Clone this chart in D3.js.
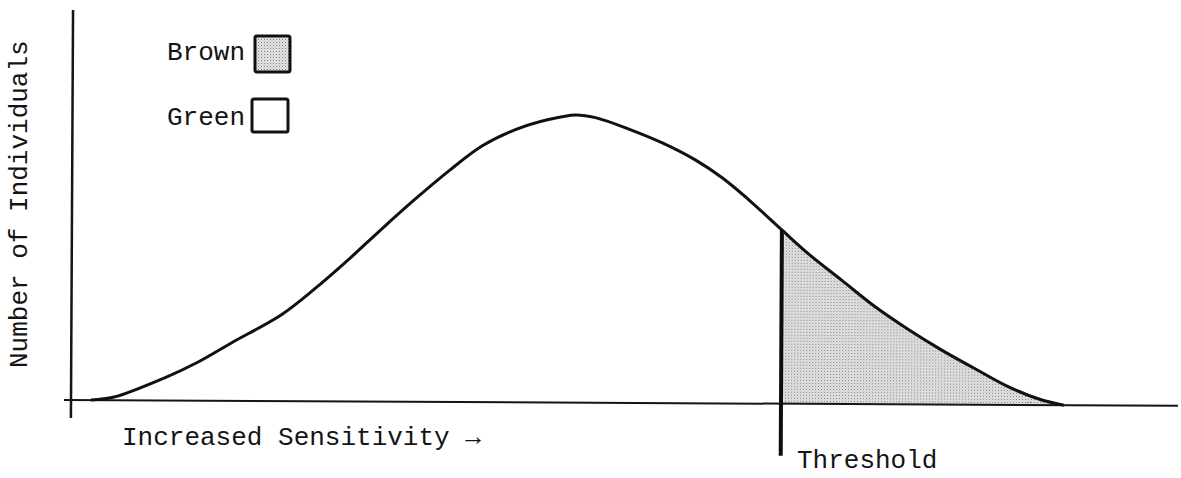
<!DOCTYPE html>
<html>
<head>
<meta charset="utf-8">
<script src="https://cdn.jsdelivr.net/npm/d3@7"></script>
<style>
  body { margin: 0; background: #fff; }
  text { font-family: "Liberation Mono", "DejaVu Sans Mono", monospace; fill: #141414; }
</style>
</head>
<body>
<svg id="chart" width="1181" height="478"></svg>
<script>
// sensitivity (arbitrary units) and number of individuals
let sensitivity = [2, 4.3, 9.3, 12.7, 16, 21, 24.3, 27.7, 31, 34.3, 37.7, 41, 44.3, 47.7, 50.3,
  52.3, 55.7, 59, 62.3, 65, 67.7, 71, 73.7, 77, 80.3, 83.7, 87, 90.3, 93.7, 97, 99.3];
let individuals = [0, 0.33, 2.34, 4.03, 6.03, 9.0, 11.7, 14.8, 18.0, 21.1, 24.1, 26.7, 28.4, 29.5, 29.97,
  29.7, 28.5, 27.1, 25.35, 23.5, 21.2, 18.1, 15.6, 12.9, 10.2, 7.8, 5.7, 3.8, 1.9, 0.55, 0];
let threshold = 71;
let legendLabels = ['Brown', 'Green'];
let axisLabels = {x: 'Increased Sensitivity \u2192', y: 'Number of Individuals', t: 'Threshold'};

let data = sensitivity.map((s, i) => ({s: s, n: individuals[i]}));

let svg = d3.select('#chart');

// stipple for the shaded part
let defs = svg.append('defs');
let pat = defs.append('pattern')
  .attr('id', 'stipple')
  .attr('patternUnits', 'userSpaceOnUse')
  .attr('width', 3).attr('height', 3);
pat.append('rect').attr('width', 3).attr('height', 3).attr('fill', '#e4e4e4');
pat.append('rect').attr('width', 1).attr('height', 1).attr('fill', '#7a7a7a');
pat.append('rect').attr('x', 1.5).attr('y', 1.5).attr('width', 1).attr('height', 1).attr('fill', '#b0b0b0');

// the scan is tilted a little, so the plot group is too
let plot = svg.append('g')
  .attr('transform', 'translate(71,400) rotate(0.3)');

let x = d3.scaleLinear().domain([0, 110]).range([0, 1100]);
let y = d3.scaleLinear().domain([0, 30]).range([0, -288]);

let curve = d3.curveCatmullRom.alpha(0.5);

// value at the threshold, from the neighbouring read points
let j = d3.bisector(d => d.s).left(data, threshold);
let tVal = data[j].n;
let tail = data.filter(d => d.s >= threshold);

plot.append('path')
  .datum(tail)
  .attr('fill', 'url(#stipple)')
  .attr('d', d3.area().x(d => x(d.s)).y0(y(0)).y1(d => y(d.n)).curve(curve));

// axes
plot.append('line')
  .attr('x1', -7).attr('x2', 1107).attr('y1', y(0)).attr('y2', y(0))
  .attr('stroke', '#151515').attr('stroke-width', 2);
plot.append('line')
  .attr('x1', 0).attr('x2', 0).attr('y1', -390).attr('y2', 18)
  .attr('stroke', '#151515').attr('stroke-width', 2.5);

// curve
plot.append('path')
  .datum(data)
  .attr('fill', 'none')
  .attr('stroke', '#111')
  .attr('stroke-width', 3)
  .attr('stroke-linejoin', 'round')
  .attr('d', d3.line().x(d => x(d.s)).y(d => y(d.n)).curve(curve));

// threshold
plot.append('line')
  .attr('x1', x(threshold)).attr('x2', x(threshold))
  .attr('y1', y(tVal)).attr('y2', 52)
  .attr('stroke', '#0d0d0d').attr('stroke-width', 4);

// labels
svg.append('text')
  .attr('transform', 'translate(27,368) rotate(-90)')
  .attr('font-size', 26)
  .text(axisLabels.y);
svg.append('text')
  .attr('x', 122).attr('y', 445)
  .attr('font-size', 26)
  .text(axisLabels.x);
svg.append('text')
  .attr('x', 797).attr('y', 468)
  .attr('font-size', 26)
  .text(axisLabels.t);

// legend
let legendY = [60, 125];
let boxes = [{x: 255, y: 36, w: 35, h: 36, fill: 'url(#stipple)'}, {x: 252, y: 99, w: 36, h: 33, fill: '#fff'}];
legendLabels.forEach(function (lab, i) {
  svg.append('text')
    .attr('x', 167).attr('y', legendY[i])
    .attr('font-size', 26)
    .text(lab);
  svg.append('rect')
    .attr('x', boxes[i].x).attr('y', boxes[i].y)
    .attr('width', boxes[i].w).attr('height', boxes[i].h)
    .attr('rx', 2)
    .attr('fill', boxes[i].fill)
    .attr('stroke', '#111').attr('stroke-width', 3);
});
</script>
</body>
</html>
